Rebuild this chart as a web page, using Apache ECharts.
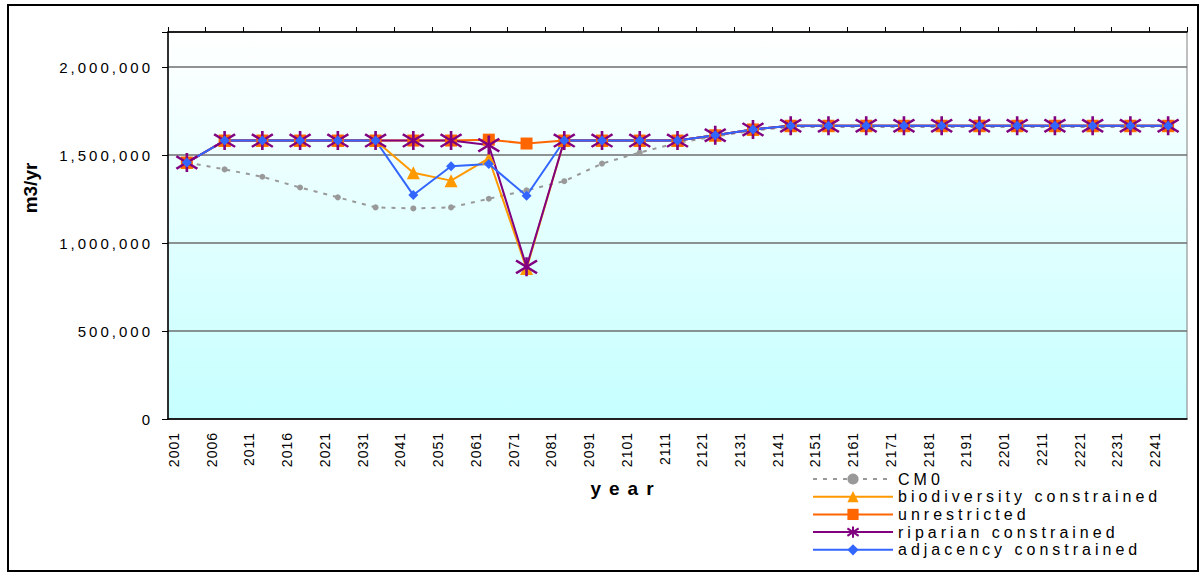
<!DOCTYPE html>
<html><head><meta charset="utf-8">
<script src="https://cdn.jsdelivr.net/npm/echarts@6/dist/echarts.min.js"></script>
<style>html,body{margin:0;padding:0;background:#fff}#c{width:1201px;height:573px}</style>
</head><body><div id="c"></div>
<script>
var years = ['2001','2006','2011','2016','2021','2031','2041','2051','2061','2071','2081','2091','2101','2111','2121','2131','2141','2151','2161','2171','2181','2191','2201','2211','2221','2231','2241'];
var yTicks = [0, 500000, 1000000, 1500000, 2000000];
var cm0 = [1458000,1419000,1377000,1316000,1260000,1203000,1197000,1203000,1252000,1300000,1352000,1452000,1515000,1570000,1606000,1640000,1660000,1660000,1660000,1660000,1660000,1660000,1660000,1660000,1660000,1660000,1660000];
var biodiversity = [1458000,1583000,1583000,1583000,1583000,1583000,1400000,1355000,1481000,855000,1583000,1583000,1583000,1583000,1613000,1646000,1667000,1667000,1667000,1667000,1667000,1667000,1667000,1667000,1667000,1667000,1667000];
var unrestricted = [1458000,1583000,1583000,1583000,1583000,1583000,1583000,1583000,1588000,1566000,1583000,1583000,1583000,1583000,1613000,1646000,1667000,1667000,1667000,1667000,1667000,1667000,1667000,1667000,1667000,1667000,1667000];
var riparian = [1458000,1583000,1583000,1583000,1583000,1583000,1583000,1583000,1557000,865000,1583000,1583000,1583000,1583000,1613000,1646000,1667000,1667000,1667000,1667000,1667000,1667000,1667000,1667000,1667000,1667000,1667000];
var adjacency = [1458000,1583000,1583000,1583000,1583000,1583000,1273000,1437000,1449000,1269000,1583000,1583000,1583000,1583000,1613000,1646000,1667000,1667000,1667000,1667000,1667000,1667000,1667000,1667000,1667000,1667000,1667000];
var names = ['CM0','biodiversity constrained','unrestricted','riparian constrained','adjacency constrained'];

var FF = '"Liberation Sans", Arial, Helvetica, sans-serif';
var dom = document.getElementById('c');
var chart = echarts.init(dom, null, {renderer: 'svg'});
var star = 'path://M0,3L20,15M20,3L0,15M10,0L10,18';

var option = {
  animation: false,
  backgroundColor: '#fff',
  grid: {
    left: 168, top: 32, right: 14, bottom: 154, containLabel: false, outerBoundsMode: 'none',
    show: true, borderWidth: 1, borderColor: '#808080',
    backgroundColor: {type: 'linear', x: 0, y: 0, x2: 0, y2: 1,
      colorStops: [{offset: 0, color: '#ffffff'}, {offset: 1, color: '#c6ffff'}]}
  },
  legend: {
    orient: 'vertical', left: 812, top: 471, height: 100, itemWidth: 80, itemHeight: 14, itemGap: 1.7,
    padding: 0,
    textStyle: {fontSize: 16, fontFamily: FF, color: '#000'},
    data: names
  },
  xAxis: [{
    type: 'category', data: years, boundaryGap: true, position: 'bottom',
    axisLine: {lineStyle: {color: '#000', width: 1.5}},
    axisTick: {show: false},
    axisLabel: {rotate: 90, interval: 0, margin: 13, fontSize: 14, fontFamily: FF, color: '#000',
      verticalAlign: 'bottom', lineHeight: 26},
    splitLine: {show: false}
  }, {
    type: 'category', data: years, boundaryGap: true, position: 'top',
    axisLine: {lineStyle: {color: '#000', width: 1.5}},
    axisTick: {show: true, inside: false, length: 5, lineStyle: {color: '#000'}},
    axisLabel: {show: false},
    splitLine: {show: false}
  }],
  yAxis: {
    type: 'value', min: yTicks[0], max: 2200000, interval: 500000,
    axisLine: {show: true, lineStyle: {color: '#000', width: 1.5}},
    axisTick: {show: true, inside: false, length: 6, lineStyle: {color: '#000'}},
    axisLabel: {margin: 15, fontSize: 15, fontFamily: FF, color: '#000',
      formatter: function (v) { return v > yTicks[yTicks.length - 1] ? '' : v.toLocaleString('en-US'); }},
    splitLine: {show: true, lineStyle: {color: '#6e6e6e', width: 1.6}}
  },
  graphic: [
    {type: 'rect', shape: {x: 8, y: 5, width: 1190, height: 566}, style: {fill: 'none', stroke: '#000', lineWidth: 2}, silent: true, z: -1},
    {type: 'text', x: 626, y: 488, style: {text: 'year', font: 'bold 19px ' + FF, fill: '#000', textAlign: 'center', textVerticalAlign: 'middle'}},
    {type: 'text', x: 30, y: 188, rotation: Math.PI / 2, style: {text: 'm3/yr', font: 'bold 19px ' + FF, fill: '#000', textAlign: 'center', textVerticalAlign: 'middle'}}
  ],
  series: [
    {name: names[0], type: 'line', data: cm0, symbol: 'circle', symbolSize: 6,
      lineStyle: {color: '#999999', width: 2, type: [4, 6]}, itemStyle: {color: '#999999'}},
    {name: names[1], type: 'line', data: biodiversity, symbol: 'triangle', symbolSize: 13,
      lineStyle: {color: '#FF9900', width: 2}, itemStyle: {color: '#FF9900'}},
    {name: names[2], type: 'line', data: unrestricted, symbol: 'rect', symbolSize: 12,
      lineStyle: {color: '#FF6600', width: 2}, itemStyle: {color: '#FF6600'}},
    {name: names[3], type: 'line', data: riparian, symbol: star, symbolSize: [21, 19],
      lineStyle: {color: '#800080', width: 2}, itemStyle: {color: '#800080', borderColor: '#800080', borderWidth: 2.5}},
    {name: names[4], type: 'line', data: adjacency, symbol: 'diamond', symbolSize: 10,
      lineStyle: {color: '#3366FF', width: 2}, itemStyle: {color: '#3366FF'}}
  ]
};
chart.setOption(option);

function spaceText() {
  var ts = dom.querySelectorAll('text');
  for (var i = 0; i < ts.length; i++) {
    var t = ts[i], s = t.textContent;
    var sp = 0;
    if (s === 'year') sp = 8;
    else if (s === 'm3/yr') sp = 0;
    else if (/^\d{4}$/.test(s)) sp = 1;
    else if (/^[\d,]+$/.test(s)) sp = 3;
    else if (names.indexOf(s) >= 0) sp = 4;
    t.setAttribute('letter-spacing', sp + 'px');
    t.style.letterSpacing = sp + 'px';
  }
}
spaceText();
chart.on('finished', spaceText);
setTimeout(spaceText, 0);
setTimeout(spaceText, 200);
</script>
</body></html>
